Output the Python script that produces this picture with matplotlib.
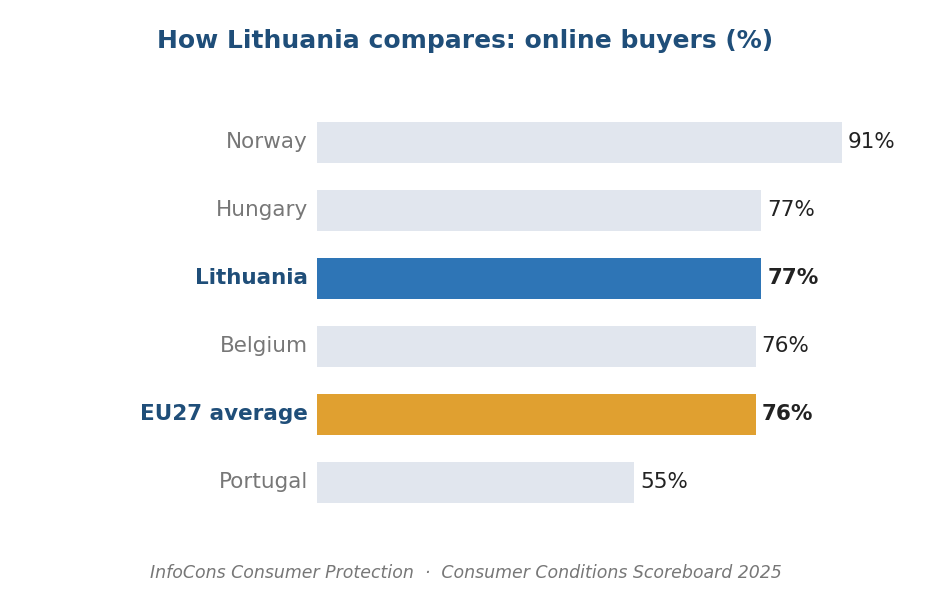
import matplotlib.pyplot as plt

# data
countries = ["Norway", "Hungary", "Lithuania", "Belgium", "EU27 average", "Portugal"]
values = [91, 77, 77, 76, 76, 55]
highlight = {"Lithuania": "#2e75b6", "EU27 average": "#e0a030"}

fig = plt.figure(figsize=(9.31, 5.89), dpi=100)
ax = fig.add_axes([0.3405, 0.1231, 0.62, 0.6927])

ypos = list(range(len(countries)))
colors = [highlight.get(c, "#e1e6ee") for c in countries]
ax.barh(ypos, values, height=0.6, color=colors)

ax.set_xlim(0, 100)
ax.set_ylim(len(countries) - 0.5, -0.5)
ax.axis("off")

for y, c, v in zip(ypos, countries, values):
    hl = c in highlight
    ax.text(-1.6, y, c, ha="right", va="center", fontsize=15.5,
            color="#1f4e79" if hl else "#777777",
            fontweight="bold" if hl else "normal")
    ax.text(v + 1, y, f"{v}%", ha="left", va="center", fontsize=15.5,
            color="#222222", fontweight="bold" if hl else "normal")

fig.text(0.5, 1 - 41 / 589, "How Lithuania compares: online buyers (%)",
         ha="center", va="center", fontsize=18, fontweight="bold", color="#1f4e79")
fig.text(0.5, 1 - 573 / 589,
         "InfoCons Consumer Protection  \u00b7  Consumer Conditions Scoreboard 2025",
         ha="center", va="center", fontsize=12.5, style="italic", color="#777777")

fig.savefig("out.png", dpi=100)
